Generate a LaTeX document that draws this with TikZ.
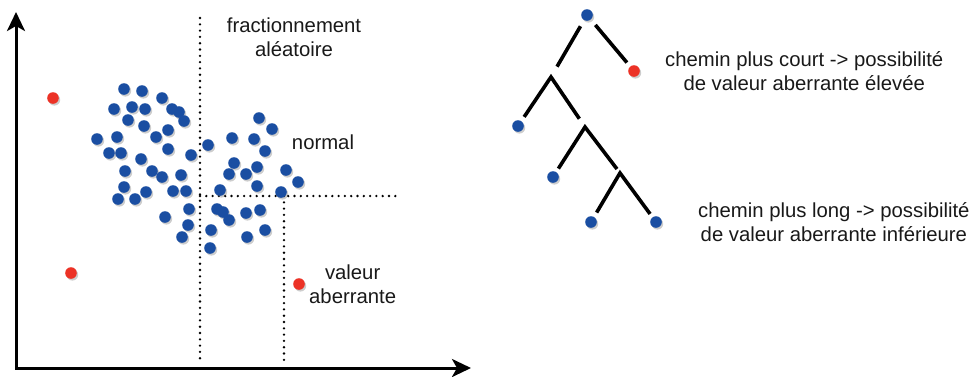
\documentclass[tikz,border=0pt]{standalone}
\usepackage{fontspec}
\setmainfont{Liberation Sans}
\usetikzlibrary{positioning}
\usetikzlibrary{arrows.meta}
\usetikzlibrary{shadows}

\definecolor{ptblue}{RGB}{26,78,162}
\definecolor{ptred}{RGB}{236,50,38}

\tikzset{
    pt/.style={circle,inner sep=0pt,minimum size=11.6pt,
        drop shadow={shadow xshift=1.4pt,shadow yshift=-1.8pt,opacity=0.28,fill=black!70}},
    bdot/.style={pt,fill=ptblue},
    rdot/.style={pt,fill=ptred},
    lbl/.style={text=black!90,inner sep=0pt,align=center,
        font=\fontsize{20.3}{24.5}\selectfont},
    axis/.style={line width=3pt,{Stealth[length=19pt,width=18pt,inset=5pt]}-{Stealth[length=19pt,width=18pt,inset=5pt]}},
    cut/.style={line width=2.6pt,dash pattern=on 0pt off 6.3pt,line cap=round},
    branch/.style={line width=3.6pt}
}

\begin{document}
\begin{tikzpicture}[x=1pt,y=-1pt]
        \useasboundingbox (0,0) rectangle (972,376);
        %% axes
        \coordinate (ytip) at (16,12);
        \coordinate (xtip) at (471,368);
        \draw[axis] (ytip) |- (xtip);
        % lignes de coupe
        \coordinate (c1) at (200,18);
        \coordinate (c2) at (200,362);
        \coordinate (c3) at (200,196);
        \coordinate (c4) at (400,196);
        \coordinate (c5) at (284,196);
        \coordinate (c6) at (284,362);
        \draw[cut] (c1) -- (c2);
        \draw[cut] (c3) -- (c4);
        \draw[cut] (c5) -- (c6);
        %% nuage de points
        \foreach \x/\y [count=\i] in {124/89,142/91,162/98,114/109,132/107,145/109,
            172/109,179/112,184/121,128/120,144/126,168/130,156/137,97/139,117/137,
            109/153,121/153,168/149,191/155,208/145,141/159,125/171,152/171,162/177,
            181/175,124/187,146/192,118/199,135/199,173/191,186/191,259/118,272/129,
            232/138,254/139,265/151,234/163,229/174,246/174,257/167,286/170,298/182,
            257/186,220/190,281/192,189/209,165/217,217/209,223/212,229/220,246/213,
            260/210,188/225,211/230,182/237,247/237,265/230,210/248}
            \node[bdot] (b\i) at (\x,\y) {};
        \node[rdot] (r1) at (53,98) {};
        \node[rdot] (r2) at (71,273) {};
        \node[rdot] (r3) at (299,284) {};
        \node[lbl] (frac) at (294,37) {fractionnement\\aléatoire};
        \node[lbl] (norm) at (323,142) {normal};
        \node[lbl,right=4pt of r3] (aber) {valeur\\aberrante};
        %% arbre
        \node[bdot] (root) at (587,15) {};
        \node[rdot] (hi) at (634,71) {};
        \coordinate (j1) at (551,77);
        \node[bdot] (t1) at (518,126) {};
        \coordinate (j2) at (585,127);
        \node[bdot] (t2) at (553,177) {};
        \coordinate (j3) at (620,173);
        \node[bdot] (t3) at (591,222) {};
        \node[bdot] (t4) at (656,222) {};
        \draw[branch,shorten <=7pt,shorten >=12pt] (root) -- (j1);
        \draw[branch,shorten <=7pt,shorten >=5pt] (root) -- (hi);
        \draw[branch,shorten <=5pt,shorten >=10pt] (t1) -- (j1) -- (j2);
        \draw[branch,shorten <=4pt,shorten >=5pt] (t2) -- (j2) -- (j3);
        \draw[branch,shorten <=5pt,shorten >=4pt] (t3) -- (j3) -- (t4);
        \node[lbl,right=25pt of hi] (court) {chemin plus court -> possibilité\\de valeur aberrante élevée};
        \node[lbl,right=36pt of t4] (long) {chemin plus long -> possibilité\\de valeur aberrante inférieure};
\end{tikzpicture}
\end{document}
